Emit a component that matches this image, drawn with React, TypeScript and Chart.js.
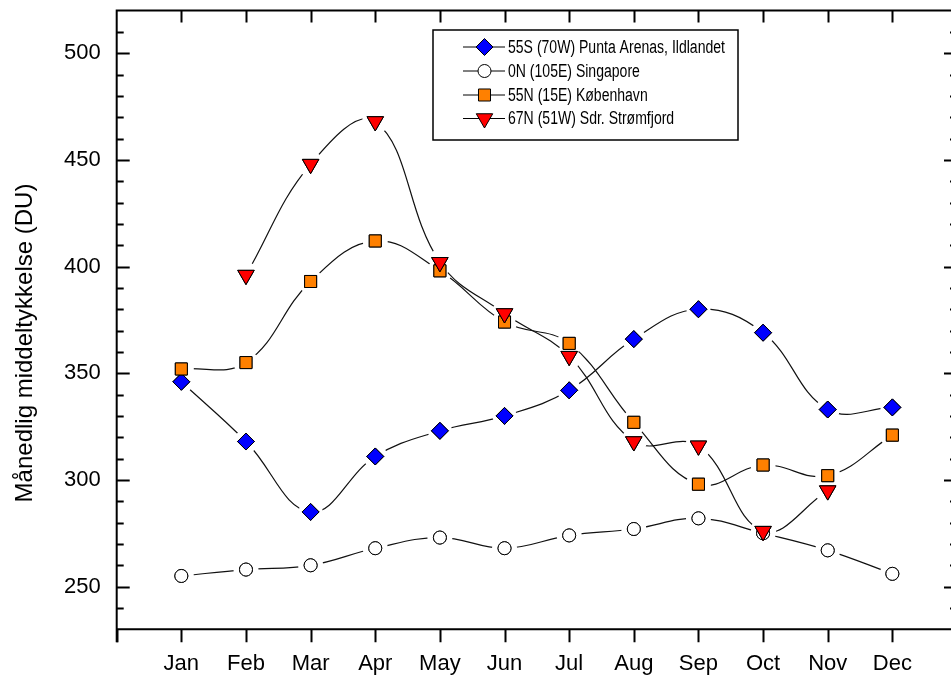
import React, { useEffect, useRef } from "react";
import { Chart, registerables } from "chart.js";

Chart.register(...registerables);

// ---- data ----
const months = ["Jan", "Feb", "Mar", "Apr", "May", "Jun", "Jul", "Aug", "Sep", "Oct", "Nov", "Dec"];
const monthX = [1, 2, 3, 4, 5, 6, 7, 8, 9, 10, 11, 12];
const puntaArenas = [346, 318, 285, 311, 323, 330, 342, 366, 380, 369, 333, 334];
const singapore = [255, 258, 260, 268, 273, 268, 274, 277, 282, 275, 267, 256];
const kobenhavn = [352, 355, 393, 412, 398, 374, 364, 327, 298, 307, 302, 321];
const stromfjord: (number | null)[] = [null, 396, 448, 468, 402, 378, 358, 318, 316, 276, 295, null];
const seriesLabels = [
  "55S (70W) Punta Arenas, Ildlandet",
  "0N (105E) Singapore",
  "55N (15E) København",
  "67N (51W) Sdr. Strømfjord",
];
const yTickValues = [250, 300, 350, 400, 450, 500];
const yMin = 230;
const yMax = 520;
const yMinorStep = 10;
const xMin = 0;
const xMax = 13;
const yTitle = "Månedlig middeltykkelse (DU)";

const FONT = "Arial, 'Liberation Sans', Helvetica, sans-serif";

const toPoints = (vals: (number | null)[]) => vals.map((v, i) => ({ x: monthX[i], y: v }));

function drawMarker(ctx: CanvasRenderingContext2D, style: string, x: number, y: number, r: number, fill: string) {
  ctx.save();
  ctx.beginPath();
  if (style === "rectRot") {
    ctx.moveTo(x, y - r);
    ctx.lineTo(x + r, y);
    ctx.lineTo(x, y + r);
    ctx.lineTo(x - r, y);
    ctx.closePath();
  } else if (style === "circle") {
    ctx.arc(x, y, r, 0, Math.PI * 2);
  } else if (style === "rect") {
    const s = r * Math.SQRT1_2;
    ctx.rect(x - s, y - s, 2 * s, 2 * s);
  } else if (style === "triangle") {
    const h = r;
    ctx.moveTo(x, y + h);
    ctx.lineTo(x + h * Math.sin((2 * Math.PI) / 3), y - h * 0.5);
    ctx.lineTo(x - h * Math.sin((2 * Math.PI) / 3), y - h * 0.5);
    ctx.closePath();
  }
  ctx.fillStyle = fill;
  ctx.fill();
  ctx.lineWidth = 1;
  ctx.strokeStyle = "#000";
  ctx.stroke();
  ctx.restore();
}

// Gaps in each line around its own markers (Origin style):
// the line is hidden by the controller (borderWidth 0 via showLine) and redrawn here, clipped.
const gapPlugin = {
  id: "lineGaps",
  afterDatasetDraw(chart: any, args: any) {
    const meta = args.meta;
    const ctx: CanvasRenderingContext2D = chart.ctx;
    const ds = meta._dataset || chart.data.datasets[meta.index];
    const gap = ds.gapRadius || 12;
    const pts = meta.data.filter((p: any) => !p.skip && isFinite(p.x) && isFinite(p.y));
    if (pts.length < 2) return;
    const t = ds.curveTension ?? 0.4;
    ctx.save();
    const clip = new Path2D();
    clip.rect(0, 0, chart.width, chart.height);
    pts.forEach((p: any) => {
      clip.moveTo(p.x + gap, p.y);
      clip.arc(p.x, p.y, gap, 0, Math.PI * 2, true);
      clip.closePath();
    });
    ctx.clip(clip, "evenodd");
    // cardinal-like spline using Chart.js control points computed on the point elements
    ctx.beginPath();
    ctx.moveTo(pts[0].x, pts[0].y);
    for (let i = 1; i < pts.length; i++) {
      const a = pts[i - 1];
      const b = pts[i];
      if (a.cp2x !== undefined && b.cp1x !== undefined) {
        ctx.bezierCurveTo(a.cp2x, a.cp2y, b.cp1x, b.cp1y, b.x, b.y);
      } else {
        ctx.lineTo(b.x, b.y);
      }
    }
    ctx.lineWidth = 1.2;
    ctx.strokeStyle = "#111";
    ctx.stroke();
    ctx.restore();
    // markers on top of own line
    const area = chart.chartArea;
    meta.data.forEach((p: any) => {
      if (p.skip) return;
      p.draw(ctx, area);
    });
  },
};

const framePlugin = {
  id: "frameTicks",
  afterDatasetsDraw(chart: any) {
    const ctx: CanvasRenderingContext2D = chart.ctx;
    const { left, right, top, bottom } = chart.chartArea;
    const xs = chart.scales.x;
    const ys = chart.scales.y;
    ctx.save();
    ctx.strokeStyle = "#000";
    ctx.lineCap = "butt";
    ctx.lineWidth = 2;
    ctx.beginPath();
    ctx.moveTo(left, top);
    ctx.lineTo(right, top);
    ctx.moveTo(right, top);
    ctx.lineTo(right, bottom);
    ctx.moveTo(left, bottom);
    ctx.lineTo(right, bottom);
    ctx.moveTo(left, top - 1);
    ctx.lineTo(left, bottom + 13);
    ctx.stroke();

    for (let v = yMin; v <= yMax; v += yMinorStep) {
      if (v === yMin || v === yMax) continue;
      const py = Math.round(ys.getPixelForValue(v)) + 0.5;
      const major = v % 50 === 0;
      const len = major ? 13 : 7;
      ctx.lineWidth = 2;
      ctx.beginPath();
      ctx.moveTo(left, py);
      ctx.lineTo(left + len, py);
      ctx.moveTo(right, py);
      ctx.lineTo(right - len, py);
      ctx.stroke();
    }
    for (let v = xMin; v <= xMax; v += 1) {
      const px = Math.round(xs.getPixelForValue(v)) + 0.5;
      ctx.lineWidth = 2;
      ctx.beginPath();
      ctx.moveTo(px, bottom);
      ctx.lineTo(px, bottom + 13);
      if (v !== xMin && v !== xMax) {
        ctx.moveTo(px, top);
        ctx.lineTo(px, top + 12);
      }
      ctx.stroke();
    }

    // y-axis title
    ctx.save();
    ctx.translate(25, 343);
    ctx.rotate(-Math.PI / 2);
    ctx.font = `24px ${FONT}`;
    ctx.fillStyle = "#000";
    ctx.textAlign = "center";
    ctx.textBaseline = "middle";
    ctx.fillText(yTitle, 0, 0);
    ctx.restore();

    // legend
    const bx = 433, by = 30, bw = 305, bh = 110;
    ctx.fillStyle = "#fff";
    ctx.fillRect(bx, by, bw, bh);
    ctx.lineWidth = 1.5;
    ctx.strokeStyle = "#000";
    ctx.strokeRect(bx, by, bw, bh);
    const rowY = [47, 71, 95, 118.5];
    chart.data.datasets.forEach((ds: any, i: number) => {
      const yy = rowY[i];
      ctx.lineWidth = 1;
      ctx.strokeStyle = "#000";
      ctx.beginPath();
      ctx.moveTo(463, yy);
      ctx.lineTo(505, yy);
      ctx.stroke();
      drawMarker(ctx, ds.legendMarker, 484.5, yy, ds.pointRadius, ds.pointBackgroundColor);
      ctx.save();
      ctx.translate(508, yy + 1);
      ctx.scale(0.78, 1);
      ctx.font = `18px ${FONT}`;
      ctx.textBaseline = "middle";
      ctx.textAlign = "left";
      ctx.fillStyle = "#000";
      ctx.fillText(ds.label, 0, 0);
      ctx.restore();
    });
    ctx.restore();
  },
};

const zeroPad = (s: any) => {
  s.paddingLeft = 0;
  s.paddingRight = 0;
  s.paddingTop = 0;
  s.paddingBottom = 0;
};

export default function App() {
  const ref = useRef<HTMLCanvasElement | null>(null);
  useEffect(() => {
    if (!ref.current) return;
    const common = {
      borderColor: "rgba(0,0,0,0)",
      borderWidth: 1,
      pointBorderColor: "#000",
      pointBorderWidth: 1,
      tension: 0.4,
      fill: false,
      spanGaps: false,
    };
    const chart = new Chart(ref.current, {
      type: "line",
      data: {
        datasets: [
          {
            ...common,
            label: seriesLabels[0],
            data: toPoints(puntaArenas),
            pointStyle: "rectRot",
            legendMarker: "rectRot",
            pointRadius: 8.5,
            gapRadius: 12,
            pointBackgroundColor: "#0000ff",
            order: 3,
          },
          {
            ...common,
            label: seriesLabels[1],
            data: toPoints(singapore),
            pointStyle: "circle",
            legendMarker: "circle",
            pointRadius: 6.5,
            gapRadius: 12.5,
            pointBackgroundColor: "#ffffff",
            order: 2,
          },
          {
            ...common,
            label: seriesLabels[2],
            data: toPoints(kobenhavn),
            pointStyle: "rect",
            legendMarker: "rect",
            pointRadius: 8.5,
            gapRadius: 12.5,
            pointBackgroundColor: "#ff8000",
            order: 1,
          },
          {
            ...common,
            label: seriesLabels[3],
            data: toPoints(stromfjord),
            pointStyle: "triangle",
            legendMarker: "triangle",
            pointRotation: 180,
            pointRadius: 9.5,
            gapRadius: 13,
            pointBackgroundColor: "#ff0000",
            order: 0,
          },
        ] as any,
      },
      options: {
        animation: false,
        responsive: false,
        devicePixelRatio: 1,
        layout: { padding: { left: 0, top: 10, right: 18, bottom: 0 } },
        plugins: { legend: { display: false }, tooltip: { enabled: false } },
        scales: {
          x: {
            type: "linear",
            min: xMin,
            max: xMax,
            grid: { display: false, drawTicks: false },
            border: { display: false },
            ticks: {
              stepSize: 1,
              autoSkip: false,
              maxRotation: 0,
              padding: 21,
              color: "#000",
              font: { family: FONT, size: 22 },
              callback: (v: any) => (v >= 1 && v <= 12 ? months[v - 1] : ""),
            },
            afterFit: (s: any) => {
              s.height = 45.7;
              zeroPad(s);
            },
          },
          y: {
            type: "linear",
            min: yMin,
            max: yMax,
            grid: { display: false, drawTicks: false },
            border: { display: false },
            afterBuildTicks: (s: any) => {
              s.ticks = yTickValues.map((v) => ({ value: v }));
            },
            ticks: {
              padding: 16,
              color: "#000",
              font: { family: FONT, size: 22 },
            },
            afterFit: (s: any) => {
              s.width = 116.7;
              zeroPad(s);
            },
          },
        },
      } as any,
      plugins: [gapPlugin, framePlugin],
    });
    return () => chart.destroy();
  }, []);
  return (
    <div
      style={{
        position: "fixed",
        left: 0,
        top: 0,
        width: 951,
        height: 675,
        overflow: "hidden",
        background: "#fff",
      }}
    >
      <canvas ref={ref} width={975} height={675} style={{ display: "block" }} />
    </div>
  );
}
